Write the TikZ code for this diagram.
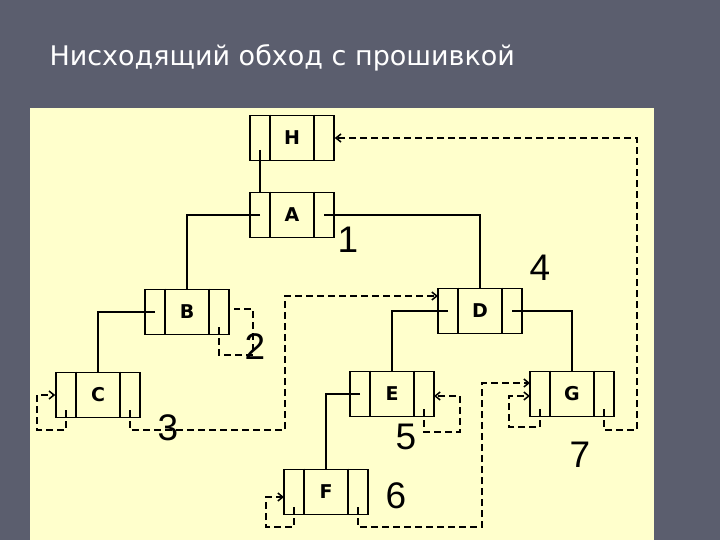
\documentclass[tikz,border=0pt]{standalone}
\usepackage{fontspec}
\setmainfont{DejaVu Sans}
\newfontfamily\digitfont{Liberation Sans}
\usetikzlibrary{arrows.meta}
\definecolor{slate}{HTML}{5B5E6E}
\definecolor{panel}{HTML}{FFFFCC}
\begin{document}
\begin{tikzpicture}[x=1pt,y=-1pt,
  box/.style={draw,line width=1.6pt,minimum width=84pt,minimum height=45pt,inner sep=0pt,font=\fontsize{19}{19}\selectfont\bfseries},
  link/.style={line width=1.3pt},
  thread/.style={line width=1.5pt,dash pattern=on 7pt off 4pt},
  arr/.style={thread,-{Straight Barb[length=5pt,width=8pt]}},
  num/.style={font=\digitfont\fontsize{37}{37}\selectfont,inner sep=0pt}]
\useasboundingbox (0,0) rectangle (720,540);
\fill[slate] (0,0) rectangle (720,540);
\fill[panel] (30,108) rectangle (654,540);
\node[anchor=west,text=white,font=\fontsize{27}{30}\selectfont] (title) at (46,58) {Нисходящий обход с прошивкой};
\node[box] (H) at (292,138) {H};
\node[box] (A) at (292,215) {A};
\node[box] (B) at (187,312) {B};
\node[box] (C) at (98,395) {C};
\node[box] (D) at (480,311) {D};
\node[box] (E) at (392,394) {E};
\node[box] (F) at (326,492) {F};
\node[box] (G) at (572,394) {G};
\foreach \n in {H,A,B,C,D,E,F,G}{
  \draw[line width=1.6pt] ([xshift=-22pt]\n.north) -- ([xshift=-22pt]\n.south);
  \draw[line width=1.6pt] ([xshift=22pt]\n.north) -- ([xshift=22pt]\n.south);
  \coordinate (\n l) at ([xshift=-32pt]\n.center);
  \coordinate (\n r) at ([xshift=32pt]\n.center);
  \coordinate (\n bl) at ([xshift=-32pt,yshift=-15pt]\n.center);
  \coordinate (\n br) at ([xshift=32pt,yshift=-15pt]\n.center);
}
% tree links
\draw[link] ([xshift=-32pt,yshift=-12pt]H.center) -- ([xshift=-32pt]A.north);
\draw[link] (Al) -- (Al -| B.north) -- (B.north);
\draw[link] (Ar) -- (Ar -| D.north) -- (D.north);
\draw[link] (Bl) -- (Bl -| C.north) -- (C.north);
\draw[link] (Dl) -- (Dl -| E.north) -- (E.north);
\draw[link] (Dr) -- (Dr -| G.north) -- (G.north);
\draw[link] (El) -- (El -| F.north) -- (F.north);
% threads
\draw[thread] (Bbr) -- ++(0,28) -- ++(34,0) -- ++(0,-46) -- ++(-19,0);
\draw[arr] (Cbl) -- (66,430) -- (37,430) -- (37,395) -- (C.west);
\draw[arr] (Cbr) -- (130,430) -- (285,430) -- (285,296) -- (438,296);
\draw[arr] (Ebr) -- (424,432) -- (460,432) -- (460,396) -- (434,396);
\draw[arr] (Fbl) -- (294,527) -- (266,527) -- (266,497) -- (284,497);
\draw[arr] (Fbr) -- (358,527) -- (482,527) -- (482,383) -- (530,383);
\draw[arr] (Gbl) -- (540,427) -- (509,427) -- (509,396) -- (530,396);
\draw[arr] (Gbr) -- (604,430) -- (637,430) -- (637,138) -- (H.east);
% labels
\node[num] (n1) at (348,240) {1};
\node[num] (n2) at (255,347) {2};
\node[num] (n3) at (168,428) {3};
\node[num] (n4) at (540,268) {4};
\node[num] (n5) at (406,437) {5};
\node[num] (n6) at (396,496) {6};
\node[num] (n7) at (580,455) {7};
\end{tikzpicture}
\end{document}
